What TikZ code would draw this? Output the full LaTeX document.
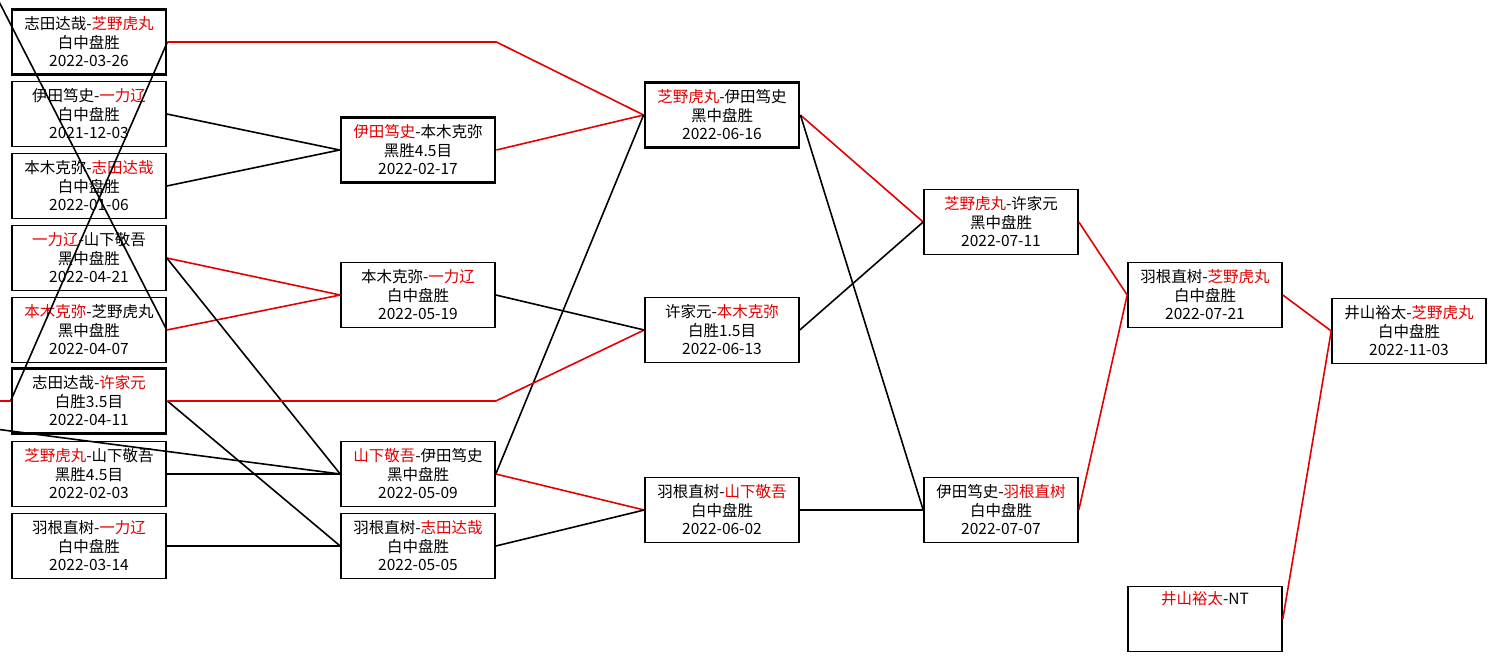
\documentclass[tikz,border=0pt]{standalone}
\usepackage{fontspec}
\newfontfamily\cjk{Noto Sans CJK SC}
\usepackage{tikz}
\usetikzlibrary{positioning}
\usetikzlibrary{calc}
\definecolor{winred}{RGB}{226,0,0}
\newcommand{\w}[1]{\textcolor{winred}{#1}}

\begin{document}
\begin{tikzpicture}[x=1pt,y=-1pt,
game/.style={draw,rectangle,line width=1.6pt,minimum width=154pt,minimum height=65pt,
  inner sep=0pt,align=center,font=\cjk\fontsize{15.5}{18.5}\selectfont},
heavygame/.style={game,line width=2.8pt},
lost/.style={line width=1.6pt},
won/.style={line width=1.6pt,draw=winred}]

\useasboundingbox (0,0) rectangle (1497,661);
\clip (0,0) rectangle (1497,661);

% 第一列
\node[heavygame] (a1) at (89,42)  {志田达哉-\w{芝野虎丸}\\白中盘胜\\2022-03-26};
\node[game]      (a2) at (89,114) {伊田笃史-\w{一力辽}\\白中盘胜\\2021-12-03};
\node[game]      (a3) at (89,186) {本木克弥-\w{志田达哉}\\白中盘胜\\2022-01-06};
\node[game]      (a4) at (89,258) {\w{一力辽}-山下敬吾\\黑中盘胜\\2022-04-21};
\node[game]      (a5) at (89,330) {\w{本木克弥}-芝野虎丸\\黑中盘胜\\2022-04-07};
\node[heavygame] (a6) at (89,401) {志田达哉-\w{许家元}\\白胜3.5目\\2022-04-11};
\node[game]      (a7) at (89,474) {\w{芝野虎丸}-山下敬吾\\黑胜4.5目\\2022-02-03};
\node[game]      (a8) at (89,546) {羽根直树-\w{一力辽}\\白中盘胜\\2022-03-14};

% 第二列
\node[heavygame] (b1) at (418,150) {\w{伊田笃史}-本木克弥\\黑胜4.5目\\2022-02-17};
\node[game]      (b2) at (418,295) {本木克弥-\w{一力辽}\\白中盘胜\\2022-05-19};
\node[game]      (b3) at (418,474) {\w{山下敬吾}-伊田笃史\\黑中盘胜\\2022-05-09};
\node[game]      (b4) at (418,546) {羽根直树-\w{志田达哉}\\白中盘胜\\2022-05-05};

% 第三列
\node[heavygame] (c1) at (722,115) {\w{芝野虎丸}-伊田笃史\\黑中盘胜\\2022-06-16};
\node[game]      (c2) at (722,330) {许家元-\w{本木克弥}\\白胜1.5目\\2022-06-13};
\node[game]      (c3) at (722,510) {羽根直树-\w{山下敬吾}\\白中盘胜\\2022-06-02};

% 第四列
\node[game] (d1) at (1001,222) {\w{芝野虎丸}-许家元\\黑中盘胜\\2022-07-11};
\node[game] (d2) at (1001,510) {伊田笃史-\w{羽根直树}\\白中盘胜\\2022-07-07};

% 决赛
\node[game] (e1) at (1205,295) {羽根直树-\w{芝野虎丸}\\白中盘胜\\2022-07-21};
\node[game] (e2) at (1205,619) {\w{井山裕太}-NT\\\strut\\\strut};
\node[game] (f1) at (1409,331) {井山裕太-\w{芝野虎丸}\\白中盘胜\\2022-11-03};

% 画面外的线
\coordinate (in1) at (-10,-16);
\coordinate (in2) at (-10,401);
\coordinate (in3) at (-20,427);

% 第一列 -> 第二列
\draw[lost] (in1) -- (a5.east);
\draw[lost] (a1.east) -- (a6.west);
\draw[won]  (in2) -- (a6.west);
\draw[lost] (a2.east) -- (b1.west);
\draw[lost] (a3.east) -- (b1.west);
\draw[won]  (a4.east) -- (b2.west);
\draw[won]  (a5.east) -- (b2.west);
\draw[lost] (a4.east) -- (b3.west);
\draw[lost] (a7.east) -- (b3.west);
\draw[lost] (in3) -- (b3.west);
\draw[lost] (a6.east) -- (b4.west);
\draw[lost] (a8.east) -- (b4.west);

% -> 第三列
\draw[won]  (a1.east) -- (a1.east -| b1.east) -- (c1.west);
\draw[won]  (b1.east) -- (c1.west);
\draw[lost] (b3.east) -- (c1.west);
\draw[won]  (a6.east) -- (a6.east -| b2.east) -- (c2.west);
\draw[lost] (b2.east) -- (c2.west);
\draw[won]  (b3.east) -- (c3.west);
\draw[lost] (b4.east) -- (c3.west);

% -> 第四列
\draw[won]  (c1.east) -- (d1.west);
\draw[lost] (c2.east) -- (d1.west);
\draw[lost] (c1.east) -- (d2.west);
\draw[lost] (c3.east) -- (d2.west);

% -> 决赛
\draw[won] (d1.east) -- (e1.west);
\draw[won] (d2.east) -- (e1.west);
\draw[won] (e1.east) -- (f1.west);
\draw[won] (e2.east) -- (f1.west);
\end{tikzpicture}
\end{document}
